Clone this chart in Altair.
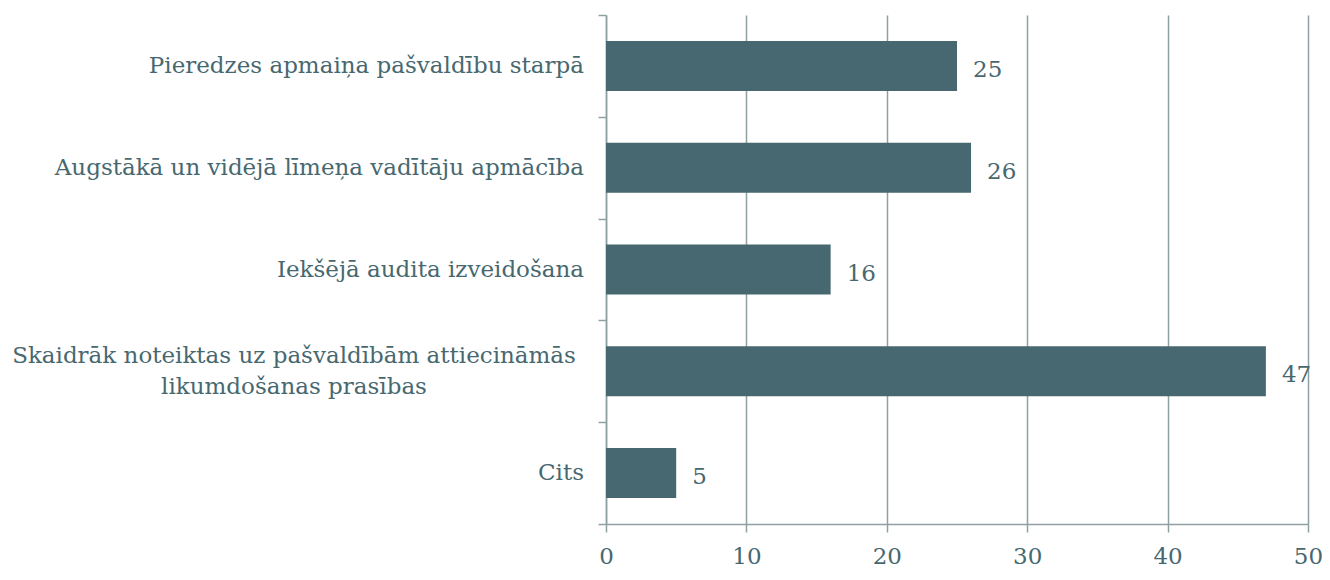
import altair as alt
import pandas as pd

categories = [
    "Pieredzes apmaiņa pašvaldību starpā",
    "Augstākā un vidējā līmeņa vadītāju apmācība",
    "Iekšējā audita izveidošana",
    "Skaidrāk noteiktas uz pašvaldībām attiecināmās\nlikumdošanas prasības",
    "Cits",
]
values = [25, 26, 16, 47, 5]
x_ticks = [0, 10, 20, 30, 40, 50]

df = pd.DataFrame({"cat": categories, "val": values})

FONT = "DejaVu Serif"
TXT = "#47686f"
GRID = "#8fa0a2"
BAR = "#476870"
MULTI = "indexof(datum.cat, '\\n') >= 0"

y_sorted = alt.Y("cat:N", sort=categories)

y_enc = alt.Y(
    "cat:N",
    sort=categories,
    title=None,
    scale=alt.Scale(paddingInner=0, paddingOuter=0),
    axis=alt.Axis(
        labels=False,
        tickBand="extent",
        tickSize=8,
        tickColor=GRID,
        tickWidth=1.5,
        domainColor=GRID,
        domainWidth=1.5,
        grid=False,
    ),
)

x_enc = alt.X(
    "val:Q",
    title=None,
    scale=alt.Scale(domain=[0, 50], nice=False),
    axis=alt.Axis(
        values=x_ticks,
        labelFont=FONT,
        labelFontSize=23,
        labelColor=TXT,
        labelPadding=13,
        tickSize=8,
        tickColor=GRID,
        tickWidth=1.5,
        domainColor=GRID,
        domainWidth=1.5,
        grid=True,
        gridColor=GRID,
        gridWidth=1.5,
        labelFlush=False,
    ),
)

bars = alt.Chart(df).mark_bar(color=BAR, size=50).encode(x=x_enc, y=y_enc)

values_text = alt.Chart(df).mark_text(
    align="left", baseline="middle", dx=16, dy=4, font=FONT, fontSize=23, color=TXT
).encode(x="val:Q", y=y_sorted, text="val:Q")

cat_single = (
    alt.Chart(df)
    .transform_filter("!(" + MULTI + ")")
    .mark_text(align="right", baseline="middle", dx=-22, font=FONT, fontSize=23, color=TXT)
    .encode(x=alt.datum(0), y=y_sorted, text="cat:N")
)

cat_multi = (
    alt.Chart(df)
    .transform_filter(MULTI)
    .mark_text(
        align="center", baseline="middle", dx=-312, dy=-15, lineBreak="\n",
        lineHeight=31, font=FONT, fontSize=23, color=TXT,
    )
    .encode(x=alt.datum(0), y=y_sorted, text="cat:N")
)

chart = (
    alt.layer(bars, values_text, cat_single, cat_multi)
    .properties(
        width=702,
        height=509,
        autosize=alt.AutoSizeParams(type="none"),
        padding={"left": 598, "top": 7, "right": 14, "bottom": 48},
        background="white",
    )
    .configure_view(stroke=None)
)

chart.save("out.html", embed_options={"renderer": "svg", "actions": False})
